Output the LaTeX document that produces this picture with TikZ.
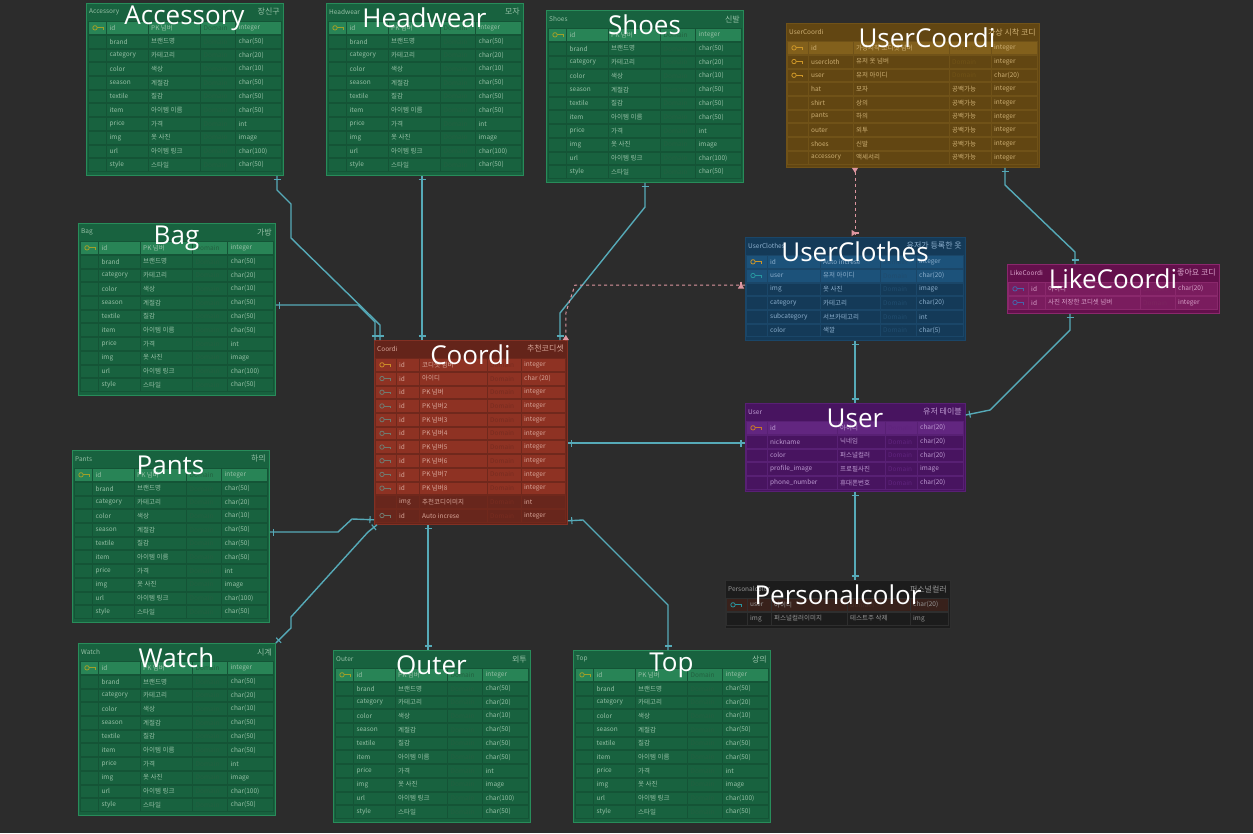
\documentclass[tikz,border=0pt]{standalone}
\usepackage{fontspec}
\newfontfamily\kr{Noto Sans CJK KR}
\newfontfamily\bigf{Open Sans}
\usetikzlibrary{calc,arrows.meta,decorations.markings}
\definecolor{bg}{RGB}{44,44,44}
\definecolor{gbody}{RGB}{24,98,63}
\definecolor{ghead}{RGB}{40,132,86}
\definecolor{gline}{RGB}{20,84,54}
\definecolor{gborder}{RGB}{40,140,90}
\definecolor{gtext}{RGB}{150,192,166}
\definecolor{gdom}{RGB}{34,96,63}
\definecolor{gicon}{RGB}{160,160,40}
\definecolor{cbody}{RGB}{100,36,26}
\definecolor{cred}{RGB}{142,50,35}
\definecolor{cdark}{RGB}{104,38,28}
\definecolor{cline}{RGB}{112,40,28}
\definecolor{cborder}{RGB}{130,48,35}
\definecolor{ctext}{RGB}{215,165,152}
\definecolor{cdom}{RGB}{120,44,32}
\definecolor{cgold}{RGB}{205,140,40}
\definecolor{cgray}{RGB}{112,122,112}
\definecolor{ubody}{RGB}{98,70,18}
\definecolor{uhead}{RGB}{130,96,28}
\definecolor{uline}{RGB}{112,82,24}
\definecolor{utext}{RGB}{205,175,115}
\definecolor{udom}{RGB}{112,82,22}
\definecolor{ugold}{RGB}{205,150,40}
\definecolor{bbody}{RGB}{20,58,88}
\definecolor{bhead}{RGB}{28,82,122}
\definecolor{bline}{RGB}{26,70,104}
\definecolor{btext}{RGB}{140,175,205}
\definecolor{bdom}{RGB}{32,76,110}
\definecolor{bteal}{RGB}{40,150,160}
\definecolor{mbody}{RGB}{100,16,76}
\definecolor{mhead}{RGB}{122,28,94}
\definecolor{mline}{RGB}{138,40,108}
\definecolor{mtext}{RGB}{215,160,200}
\definecolor{mdom}{RGB}{124,36,94}
\definecolor{micon}{RGB}{70,100,170}
\definecolor{pbody}{RGB}{72,20,96}
\definecolor{phead}{RGB}{98,38,128}
\definecolor{pline}{RGB}{88,32,116}
\definecolor{ptext}{RGB}{190,155,210}
\definecolor{pdom}{RGB}{96,36,126}
\definecolor{porange}{RGB}{200,120,40}
\definecolor{kbody}{RGB}{28,28,28}
\definecolor{khead}{RGB}{56,33,27}
\definecolor{kline}{RGB}{46,46,46}
\definecolor{ktext}{RGB}{150,150,150}
\definecolor{kdom}{RGB}{70,46,40}
\definecolor{connc}{RGB}{86,170,184}
\definecolor{pinkc}{RGB}{222,150,160}
\tikzset{
  rt/.style={anchor=west,inner sep=0pt,font=\kr\fontsize{6.5}{7}\selectfont},
  sbar/.style={postaction={decorate,decoration={markings,mark=at position 4pt with {\draw[solid,#1,line width=1.1pt] (0,-3.5pt)--(0,3.5pt);}}}},
  ebar/.style={postaction={decorate,decoration={markings,mark=at position -4pt with {\draw[solid,#1,line width=1.1pt] (0,-3.5pt)--(0,3.5pt);}}}},
  conn/.style={draw=connc,line width=1.4pt,sbar=connc,ebar=connc},
  pinkconn/.style={draw=pinkc,line width=1pt,dashed},
  bigt/.style={font=\bigf\fontsize{26}{30}\selectfont,text=white,inner sep=0pt},
}
\newcommand\tframe[8]{%
  \node[draw=#5,fill=#4,line width=0.8pt,minimum width=#2pt,minimum height=#3pt,anchor=north west,inner sep=0pt] (#1) at (0,0) {};
  \node[font=\kr\fontsize{6.5}{7}\selectfont,text=#8,anchor=west,inner sep=0pt] at (3,9) {#6};
  \node[font=\kr\fontsize{8}{9}\selectfont,text=#8,anchor=east,inner sep=0pt] at (#2-3,9) {#7};
}
\newcommand\erow[7]{%
  \foreach \ca/\cb in {\xL/\xA,\xA/\xB,\xB/\xC,\xC/\xD,\xD/\xR}
    \draw[draw=rowline,fill=#2,line width=0.6pt] (\ca,#1+0.5) rectangle (\cb,#1+13.2);
  \draw[draw=#3,line width=0.8pt] (\xL+7,#1+6.85) circle (2.2pt);
  \draw[draw=#3,line width=0.8pt] (\xL+9.2,#1+6.85) -- (\xL+15,#1+6.85) -- (\xL+15,#1+8.8);
  \node[rt,text=rowtext] at (\xA+3,#1+6.85) {#4};
  \node[rt,text=rowtext] at (\xB+3,#1+6.85) {#5};
  \node[rt,text=domtext] at (\xC+3,#1+6.85) {#6};
  \node[rt,text=rowtext] at (\xD+3,#1+6.85) {#7};
}
\newcommand\biglabel[2]{\node[bigt] at (#1,15) {#2};}
\newcommand\greentbl[5]{%
\begin{scope}[shift={(#2,#3)}]
  \colorlet{rowline}{gline}\colorlet{rowtext}{gtext}\colorlet{domtext}{gdom}
  \tframe{#1}{197}{172}{gbody}{gborder}{#4}{#5}{gtext}
  \def\xL{2}\def\xA{20.5}\def\xB{62}\def\xC{114.5}\def\xD{149.5}\def\xR{195}
  \erow{18}{ghead}{gicon}{id}{PK 넘버}{Domain}{integer}
  \erow{18+13.7}{none}{none}{brand}{브랜드명}{Domain}{char(50)}
  \erow{18+13.7*2}{none}{none}{category}{카테고리}{Domain}{char(20)}
  \erow{18+13.7*3}{none}{none}{color}{색상}{Domain}{char(10)}
  \erow{18+13.7*4}{none}{none}{season}{계절감}{Domain}{char(50)}
  \erow{18+13.7*5}{none}{none}{textile}{질감}{Domain}{char(50)}
  \erow{18+13.7*6}{none}{none}{item}{아이템 이름}{Domain}{char(50)}
  \erow{18+13.7*7}{none}{none}{price}{가격}{Domain}{int}
  \erow{18+13.7*8}{none}{none}{img}{옷 사진}{Domain}{image}
  \erow{18+13.7*9}{none}{none}{url}{아이템 링크}{Domain}{char(100)}
  \erow{18+13.7*10}{none}{none}{style}{스타일}{Domain}{char(50)}
  \biglabel{98.5}{#4}
\end{scope}}
\begin{document}
\begin{tikzpicture}[x=1pt,y=-1pt]
\fill[bg] (0,0) rectangle (1253,833);
\useasboundingbox (0,0) rectangle (1253,833);

\greentbl{accessory}{86}{3}{Accessory}{장신구}
\greentbl{headwear}{326}{3}{Headwear}{모자}
\greentbl{shoes}{546}{10}{Shoes}{신발}
\greentbl{bag}{78}{223}{Bag}{가방}
\greentbl{pants}{72}{450}{Pants}{하의}
\greentbl{watch}{78}{643}{Watch}{시계}
\greentbl{outer}{333}{650}{Outer}{외투}
\greentbl{top}{573}{650}{Top}{상의}

% Coordi
\begin{scope}[shift={(374,340)}]
  \colorlet{rowline}{cline}\colorlet{rowtext}{ctext}\colorlet{domtext}{cdom}
  \tframe{coordi}{193}{184}{cbody}{cborder}{Coordi}{추천코디셋}{ctext}
  \def\xL{1}\def\xA{22}\def\xB{45}\def\xC{113}\def\xD{147}\def\xR{191}
  \erow{18}{cred}{cgold}{id}{코디셋 넘버}{\textit{Domain}}{integer}
  \erow{18+13.7}{cred}{cgray}{id}{아이디}{\textit{Domain}}{char (20)}
  \erow{18+13.7*2}{cred}{cgray}{id}{PK 넘버}{\textit{Domain}}{integer}
  \erow{18+13.7*3}{cred}{cgray}{id}{PK 넘버2}{\textit{Domain}}{integer}
  \erow{18+13.7*4}{cred}{cgray}{id}{PK 넘버3}{\textit{Domain}}{integer}
  \erow{18+13.7*5}{cred}{cgray}{id}{PK 넘버4}{\textit{Domain}}{integer}
  \erow{18+13.7*6}{cred}{cgray}{id}{PK 넘버5}{\textit{Domain}}{integer}
  \erow{18+13.7*7}{cred}{cgray}{id}{PK 넘버6}{\textit{Domain}}{integer}
  \erow{18+13.7*8}{cred}{cgray}{id}{PK 넘버7}{\textit{Domain}}{integer}
  \erow{18+13.7*9}{cred}{cgray}{id}{PK 넘버8}{\textit{Domain}}{integer}
  \erow{18+13.7*10}{cdark}{none}{img}{추천코디이미지}{Domain}{int}
  \erow{18+13.7*11}{cdark}{cgray}{id}{Auto increse}{Domain}{integer}
  \biglabel{96.5}{Coordi}
\end{scope}

% UserCoordi
\begin{scope}[shift={(786,23)}]
  \colorlet{rowline}{uline}\colorlet{rowtext}{utext}\colorlet{domtext}{udom}
  \tframe{usercoordi}{253}{144}{ubody}{uline}{UserCoordi}{가상 시착 코디}{utext}
  \def\xL{1}\def\xA{22}\def\xB{67}\def\xC{163}\def\xD{205}\def\xR{251}
  \erow{18}{uhead}{ugold}{id}{가상시착 코디셋 넘버}{Domain}{integer}
  \erow{18+13.7}{none}{ugold}{usercloth}{유저 옷 넘버}{Domain}{integer}
  \erow{18+13.7*2}{none}{ugold}{user}{유저 아이디}{Domain}{char(20)}
  \erow{18+13.7*3}{none}{none}{hat}{모자}{\textcolor{utext}{공백가능}}{integer}
  \erow{18+13.7*4}{none}{none}{shirt}{상의}{\textcolor{utext}{공백가능}}{integer}
  \erow{18+13.7*5}{none}{none}{pants}{하의}{\textcolor{utext}{공백가능}}{integer}
  \erow{18+13.7*6}{none}{none}{outer}{외투}{\textcolor{utext}{공백가능}}{integer}
  \erow{18+13.7*7}{none}{none}{shoes}{신발}{\textcolor{utext}{공백가능}}{integer}
  \erow{18+13.7*8}{none}{none}{accessory}{액세서리}{\textcolor{utext}{공백가능}}{integer}
  \biglabel{141}{UserCoordi}
\end{scope}

% UserClothes
\begin{scope}[shift={(745,237)}]
  \colorlet{rowline}{bline}\colorlet{rowtext}{btext}\colorlet{domtext}{bdom}
  \tframe{userclothes}{220}{103}{bbody}{bline}{UserClothes}{유저가 등록한 옷}{btext}
  \def\xL{1}\def\xA{22}\def\xB{75}\def\xC{135}\def\xD{171}\def\xR{218}
  \erow{18}{bhead}{ugold}{id}{Auto increse}{Domain}{integer}
  \erow{18+13.7}{bhead}{bteal}{user}{유저 아이디}{Domain}{char(20)}
  \erow{18+13.7*2}{none}{none}{img}{옷 사진}{Domain}{image}
  \erow{18+13.7*3}{none}{none}{category}{카테고리}{Domain}{char(20)}
  \erow{18+13.7*4}{none}{none}{subcategory}{서브카테고리}{Domain}{int}
  \erow{18+13.7*5}{none}{none}{color}{색깔}{Domain}{char(5)}
  \biglabel{110}{UserClothes}
\end{scope}

% LikeCoordi
\begin{scope}[shift={(1007,264)}]
  \colorlet{rowline}{mline}\colorlet{rowtext}{mtext}\colorlet{domtext}{mdom}
  \tframe{likecoordi}{212}{49}{mbody}{mline}{LikeCoordi}{좋아요 코디}{mtext}
  \def\xL{1}\def\xA{21}\def\xB{38}\def\xC{133}\def\xD{168}\def\xR{210}
  \erow{18}{mhead}{micon}{id}{아이디}{Domain}{char(20)}
  \erow{18+13.7}{mhead}{micon}{id}{사진 저장한 코디셋 넘버}{Domain}{integer}
  \biglabel{106}{LikeCoordi}
\end{scope}

% User
\begin{scope}[shift={(745,403)}]
  \colorlet{rowline}{pline}\colorlet{rowtext}{ptext}\colorlet{domtext}{pdom}
  \tframe{user}{220}{88}{pbody}{pline}{User}{유저 테이블}{ptext}
  \def\xL{1}\def\xA{22}\def\xB{92}\def\xC{140}\def\xD{172}\def\xR{218}
  \erow{18}{phead}{porange}{id}{아이디}{Domain}{char(20)}
  \erow{18+13.7}{none}{none}{nickname}{닉네임}{Domain}{char(20)}
  \erow{18+13.7*2}{none}{none}{color}{퍼스널컬러}{Domain}{char(20)}
  \erow{18+13.7*3}{none}{none}{profile\_image}{프로필사진}{Domain}{image}
  \erow{18+13.7*4}{none}{none}{phone\_number}{휴대폰번호}{Domain}{char(20)}
  \biglabel{110}{User}
\end{scope}

% Personalcolor
\begin{scope}[shift={(725,580)}]
  \colorlet{rowline}{kline}\colorlet{rowtext}{ktext}\colorlet{domtext}{kdom}
  \tframe{personalcolor}{225}{48}{kbody}{kline}{Personalcolor}{퍼스널컬러}{ktext}
  \def\xL{1}\def\xA{22}\def\xB{46}\def\xC{122}\def\xD{185}\def\xR{223}
  \erow{18}{khead}{bteal}{user}{아이디}{Domain}{char(20)}
  \erow{18+13.7}{none}{none}{img}{퍼스널컬러이미지}{\textcolor{ktext}{테스트주 삭제}}{img}
  \biglabel{113}{Personalcolor}
\end{scope}

% connectors
\draw[conn] ($(accessory.south west)+(191,0)$) -- (277,190) -- (291,204) -- (291,238) -- (380,325) -- ($(coordi.north west)+(6,0)$);
\draw[conn] ($(bag.north east)+(0,82)$) -- (358,305) -- (375,322) -- ($(coordi.north west)+(1,0)$);
\draw[conn] ($(headwear.south west)+(96,0)$) -- ($(coordi.north west)+(48,0)$);
\draw[conn] ($(shoes.south west)+(99,0)$) -- (645,207) -- (560,313) -- ($(coordi.north west)+(186,0)$);
\draw[conn] ($(pants.north east)+(0,82)$) -- (338,532) -- (352,519) -- ($(coordi.south west)+(0,-5)$);
\draw[conn] ($(watch.north east)+(0,0)$) -- (291,628) -- (291,617) -- (368,532) -- ($(coordi.south west)+(3,0)$);
\draw[conn] ($(outer.north west)+(95,0)$) -- ($(coordi.south west)+(54,0)$);
\draw[conn] ($(top.north west)+(95,0)$) -- (668,605) -- (583,520) -- ($(coordi.south east)+(0,-4)$);
\draw[conn] ($(coordi.north east)+(0,103)$) -- ($(user.north west)+(0,40)$);
\draw[conn] ($(userclothes.south west)+(110,0)$) -- ($(user.north west)+(110,0)$);
\draw[conn] ($(usercoordi.south west)+(219,0)$) -- (1005,185) -- (1075,252) -- ($(likecoordi.north west)+(68,0)$);
\draw[conn] ($(likecoordi.south west)+(63,0)$) -- (1070,330) -- (990,410) -- ($(user.north east)+(0,12)$);
\draw[conn] ($(user.south west)+(110,0)$) -- ($(personalcolor.north west)+(130,0)$);
\draw[pinkconn,{Triangle[reversed,width=6pt,length=5pt]}-,ebar=pinkc] ($(usercoordi.south west)+(69,0)$) -- ($(userclothes.north west)+(110,0)$);
\draw[pinkconn,-{Triangle[reversed,width=6pt,length=5pt]},sbar=pinkc] ($(userclothes.north west)+(0,48)$) -- (575,285) -- (566,312) -- ($(coordi.north east)+(-2,0)$);
\end{tikzpicture}
\end{document}
